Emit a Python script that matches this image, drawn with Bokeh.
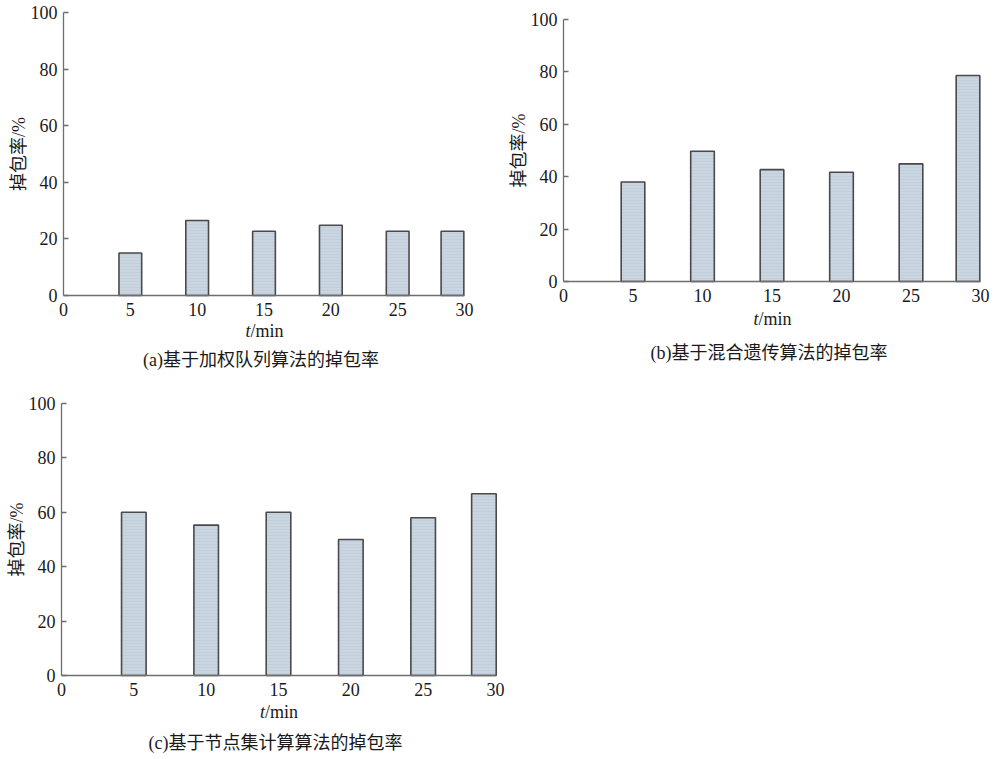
import math
from bokeh.plotting import figure
from bokeh.layouts import column, row
from bokeh.models import Range1d, FixedTicker, Label
from bokeh.embed import file_html
from bokeh.resources import INLINE

# ---- data ----
x_ticks = [0, 5, 10, 15, 20, 25, 30]
y_ticks = [0, 20, 40, 60, 80, 100]

t_a = [5, 10, 15, 20, 25, 29.1]
rate_a = [15.0, 26.5, 22.7, 24.8, 22.7, 22.7]

t_b = [5, 10, 15, 20, 25, 29.1]
rate_b = [38.0, 49.7, 42.7, 41.7, 44.9, 78.6]

t_c = [5, 10, 15, 20, 25, 29.2]
rate_c = [60.0, 55.3, 60.0, 50.0, 58.0, 66.8]

y_label = "掉包率/%"
cap_a = "(a)基于加权队列算法的掉包率"
cap_b = "(b)基于混合遗传算法的掉包率"
cap_c = "(c)基于节点集计算算法的掉包率"

FONT = "'Liberation Serif', 'Noto Sans CJK SC'"
CJK = "'Liberation Serif', 'Noto Sans CJK SC'"
BAR_FILL = "#c9d5e1"
BAR_LINE = "#4a4a4a"
AXIS_COL = "#6e6e6e"
TXT = "#1a1a1a"


def panel(ts, vals, caption, width, height, left_px, axis_w, top_px, axis_h,
          cap_dy, lab_dy, cap_dx):
    """left_px/top_px: distance (px) from the figure's left/top edge to the
    point (0, 100); axis_w/axis_h: pixel length of the 0..30 / 0..100 axes."""
    sx = axis_w / 30.0
    sy = axis_h / 100.0
    x0 = -left_px / sx
    x1 = 30 + (width - left_px - axis_w) / sx
    y1 = 100 + top_px / sy
    y0 = -(height - top_px - axis_h) / sy
    p = figure(width=width, height=height, output_backend="svg",
               toolbar_location=None, x_range=Range1d(x0, x1),
               y_range=Range1d(y0, y1), min_border=0,
               min_border_left=0, min_border_right=0,
               min_border_top=0, min_border_bottom=0)
    p.outline_line_color = None
    p.grid.visible = False
    p.background_fill_color = "white"
    p.border_fill_color = "white"

    p.vbar(x=ts, top=vals, bottom=0, width=1.7, fill_color=BAR_FILL,
           line_color=BAR_LINE, line_width=1.6,
           hatch_pattern="horizontal_line", hatch_color="#b3c0ce",
           hatch_alpha=0.5, hatch_scale=3, hatch_weight=0.6)

    for ax in (p.xaxis[0], p.yaxis[0]):
        ax.axis_line_color = AXIS_COL
        ax.axis_line_width = 1.3
        ax.major_tick_line_color = AXIS_COL
        ax.major_tick_line_width = 1.3
        ax.minor_tick_line_color = None
        ax.major_label_text_font = FONT
        ax.major_label_text_font_size = "18px"
        ax.major_label_text_color = TXT

    xa = p.xaxis[0]
    xa.fixed_location = 0
    xa.bounds = (0, 30)
    xa.ticker = FixedTicker(ticks=x_ticks)
    xa.major_tick_in = 0
    xa.major_tick_out = 0
    xa.major_label_standoff = 7

    ya = p.yaxis[0]
    ya.fixed_location = 0
    ya.bounds = (0, 100)
    ya.ticker = FixedTicker(ticks=y_ticks)
    ya.major_tick_in = 5
    ya.major_tick_out = 0
    ya.major_label_standoff = 6

    # y axis title
    p.add_layout(Label(x=0, y=50, x_offset=-45, text=y_label, angle=math.pi / 2,
                       text_font=CJK, text_font_size="18px", text_color=TXT,
                       text_align="center", text_baseline="middle"))
    # x axis label "t/min" with italic t
    p.add_layout(Label(x=15, y=0, x_offset=-18.5, y_offset=-lab_dy, text="t",
                       text_font=FONT, text_font_style="italic",
                       text_font_size="18px", text_color=TXT,
                       text_align="left", text_baseline="middle"))
    p.add_layout(Label(x=15, y=0, x_offset=-13.5, y_offset=-lab_dy, text="/min",
                       text_font=FONT, text_font_size="18px",
                       text_color=TXT,
                       text_align="left", text_baseline="middle"))
    # caption
    p.add_layout(Label(x=15, y=0, x_offset=cap_dx, y_offset=-cap_dy, text=caption,
                       text_font=CJK, text_font_size="18px",
                       text_color=TXT,
                       text_align="center", text_baseline="middle"))
    return p


# figure a: page x 0..505, y 0..380; axes x 63..464, y 12..295
pa = panel(t_a, rate_a, cap_a, width=505, height=380, left_px=63, axis_w=401,
           top_px=12, axis_h=283, cap_dy=64, lab_dy=35, cap_dx=-3)
# figure b: page x 505..993, y 0..380; axes x 563..980, y 19..282
pb = panel(t_b, rate_b, cap_b, width=488, height=380, left_px=58, axis_w=417,
           top_px=19, axis_h=262, cap_dy=71, lab_dy=37, cap_dx=-3)
# figure c: page x 0..515, y 380..756; axes x 61..495, y 403..676
pc = panel(t_c, rate_c, cap_c, width=515, height=376, left_px=61, axis_w=434,
           top_px=23, axis_h=272, cap_dy=67, lab_dy=36, cap_dx=-3)

layout = column(row(pa, pb, spacing=0), pc, spacing=0)

open("out.html", "w").write(file_html(layout, INLINE))
